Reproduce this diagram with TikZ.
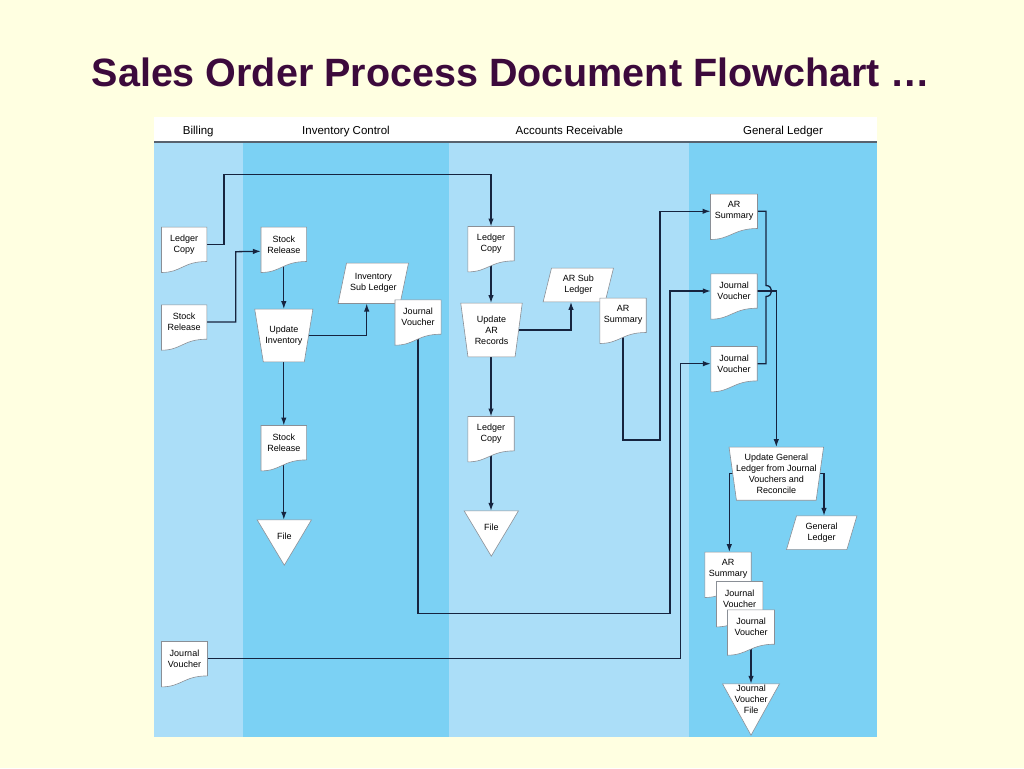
\documentclass[tikz,border=0pt]{standalone}
\usepackage{fontspec}
\setmainfont{Liberation Sans}
\usetikzlibrary{arrows.meta,calc}
\definecolor{bgyellow}{HTML}{FFFFE1}
\definecolor{lanelight}{HTML}{ABDEF8}
\definecolor{lanedark}{HTML}{7BD1F4}
\definecolor{titlec}{HTML}{3C0A3C}
\definecolor{linec}{HTML}{16243F}
\definecolor{shapec}{HTML}{8A8F96}
\definecolor{headline}{HTML}{58626E}
\pgfdeclarelayer{bg}\pgfdeclarelayer{lines}\pgfdeclarelayer{shapes}
\pgfsetlayers{bg,lines,shapes,main}
\newcommand\nodefnt{\fontsize{9}{11}\selectfont}
% document shape: name, position, width, text
\newcommand\docnode[4]{%
  \node[txt, minimum width=#3pt, minimum height=34pt] (#1) at (#2) {#4};
  \begin{pgfonlayer}{shapes}
  \draw[shp] (#1.north west) -- (#1.north east) -- (#1.south east)
    .. controls ([xshift=-24pt]#1.south east) and ([xshift=20pt,yshift=-11pt]#1.south west)
    .. ([yshift=-11pt]#1.south west) -- cycle;
  \end{pgfonlayer}}
% manual operation (trapezoid, wide top): name, position, mean width, inset, height, text
\newcommand\trapnode[6]{%
  \node[txt, minimum width=#3pt, minimum height=#5pt] (#1) at (#2) {#6};
  \begin{pgfonlayer}{shapes}
  \draw[shp] ([xshift=-#4pt]#1.north west) -- ([xshift=#4pt]#1.north east)
    -- ([xshift=-#4pt]#1.south east) -- ([xshift=#4pt]#1.south west) -- cycle;
  \end{pgfonlayer}}
% parallelogram: name, position, width, half slant, height, text
\newcommand\parnode[6]{%
  \node[txt, minimum width=#3pt, minimum height=#5pt] (#1) at (#2) {#6};
  \begin{pgfonlayer}{shapes}
  \draw[shp] ([xshift=#4pt]#1.north west) -- ([xshift=#4pt]#1.north east)
    -- ([xshift=-#4pt]#1.south east) -- ([xshift=-#4pt]#1.south west) -- cycle;
  \end{pgfonlayer}}
% file triangle: name, position, width, height, apex drop, text
\newcommand\trinode[6]{%
  \node[txt, minimum width=#3pt, minimum height=#4pt] (#1) at (#2) {#6};
  \begin{pgfonlayer}{shapes}
  \draw[shp] (#1.north west) -- (#1.north east) -- ([yshift=-#5pt]#1.south) -- cycle;
  \end{pgfonlayer}}
\begin{document}
\begin{tikzpicture}[x=1pt,y=-1pt,
  txt/.style={font=\nodefnt, align=center, inner sep=0pt, text=black},
  shp/.style={fill=white, draw=shapec, line width=0.6pt, line join=miter},
  conn/.style={draw=linec, line width=1.3pt},
  arr/.style={conn, -{Latex[length=8pt,width=5.5pt]}},
  lanehead/.style={font=\fontsize{11.5}{13}\selectfont, anchor=base, inner sep=0pt}]
\useasboundingbox (0,0) rectangle (1024,768);
\begin{pgfonlayer}{bg}
\fill[bgyellow] (0,0) rectangle (1024,768);
\fill[white] (154,117) rectangle (877,143);
\fill[lanelight] (154,143) rectangle (242.7,737);
\fill[lanedark] (242.7,143) rectangle (449.3,737);
\fill[lanelight] (449.3,143) rectangle (689.3,737);
\fill[lanedark] (689.3,143) rectangle (877,737);
\draw[headline, line width=2pt] (154,142.3) -- (877,142.3);
\end{pgfonlayer}

\node[anchor=base, inner sep=0pt, text=titlec, font=\fontsize{39.5}{44}\selectfont\bfseries] (title) at (511,86.7) {Sales Order Process Document Flowchart …};

\node[lanehead] (hBilling) at (198.3,134) {Billing};
\node[lanehead] (hInv) at (346,134) {Inventory Control};
\node[lanehead] (hAR) at (569.3,134) {Accounts Receivable};
\node[lanehead] (hGL) at (783,134) {General Ledger};

% parallelograms (drawn first so overlapping documents lie above them)
\parnode{invSub}{373.3,283.3}{61.6}{4.2}{40}{Inventory\\Sub Ledger}
\parnode{arSub}{578.3,285}{61.6}{4.2}{33.3}{AR Sub\\Ledger}
\parnode{genLedger}{821.7,532.7}{60}{5}{33.3}{General\\Ledger}

% Billing
\docnode{billLedger}{184.2,244.3}{45}{Ledger\\Copy}
\docnode{billStock}{184.2,322}{45}{Stock\\Release}
\docnode{billJV}{184.5,658.7}{45.6}{Journal\\Voucher}
% Inventory control
\docnode{icStock}{283.8,244.3}{45.3}{Stock\\Release}
\trapnode{updInv}{283.8,335.5}{49.2}{4.3}{52.4}{Update\\Inventory}
\docnode{icJV}{418,317}{45.7}{Journal\\Voucher}
\docnode{icStock2}{283.8,442.7}{45.3}{Stock\\Release}
\trinode{fileA}{284.3,536.7}{54}{33.4}{11.6}{File}
% Accounts receivable
\docnode{arLedger}{491,243.7}{46}{Ledger\\Copy}
\trapnode{updAR}{491.5,330}{53.9}{3.6}{53.4}{Update\\AR\\Records}
\docnode{arSummary}{623,315.3}{46}{AR\\Summary}
\docnode{arLedger2}{491,433.7}{46}{Ledger\\Copy}
\trinode{fileB}{491.3,527.3}{54}{32.6}{12.4}{File}
% General ledger
\docnode{glAR}{734,211.3}{46.6}{AR\\Summary}
\docnode{glJV1}{734,291}{46}{Journal\\Voucher}
\docnode{glJV2}{734,363.7}{46}{Journal\\Voucher}
\trapnode{updGL}{776.3,473.7}{86.7}{3.7}{52.7}{Update General\\Ledger from Journal\\Vouchers and\\Reconcile}
\docnode{stkAR}{728,569.3}{46}{AR\\Summary}
\docnode{stkJV1}{739.7,598.7}{46}{Journal\\Voucher}
\docnode{stkJV2}{751,627}{46.6}{Journal\\Voucher}
\trinode{jvFile}{751,699}{56.6}{30}{21}{Journal\\Voucher\\File}

\begin{pgfonlayer}{lines}
\draw[arr] (billLedger.east) -| (224,174.3) -| (arLedger.north);
\draw[arr] (billStock.east) -| (235.7,251.7) -- ([yshift=-7pt]icStock.west);
\draw[arr] (icStock.south) -- (icStock.south |- updInv.north);
\draw[arr] (updInv.east) -| ([xshift=-6.6pt]invSub.south);
\draw[arr] (updInv.south) -- (updInv.south |- icStock2.north);
\draw[arr] (icStock2.south) -- (icStock2.south |- fileA.north);
\draw[arr] (icJV.south) |- (670,613.3) |- (glJV1.west);
\draw[arr] (arLedger.south) -- (arLedger.south |- updAR.north);
\draw[arr] (updAR.east) -| ([xshift=-7.3pt]arSub.south);
\draw[arr] (updAR.south) -- (updAR.south -| arLedger2.north) -- (arLedger2.north);
\draw[arr] (arLedger2.south) -- (arLedger2.south |- fileB.north);
\draw[arr] (arSummary.south) |- (660,440) |- (glAR.west);
\draw[arr] (billJV.east) -| ([xshift=-30.3pt]glJV2.west) -- (glJV2.west);
\draw[conn] (glAR.east) -| (766,285.5) .. controls (773.5,285.5) and (773.5,296.5) .. (766,296.5) |- (glJV2.east);
\draw[arr] (glJV1.east) -| (updGL.north);
\draw[arr] (updGL.west) -| ([xshift=1.3pt]stkAR.north);
\draw[arr] (updGL.east) -| ([xshift=2.3pt]genLedger.north);
\draw[arr] (stkJV2.south) -- (stkJV2.south |- jvFile.north);
\end{pgfonlayer}
\end{tikzpicture}
\end{document}
